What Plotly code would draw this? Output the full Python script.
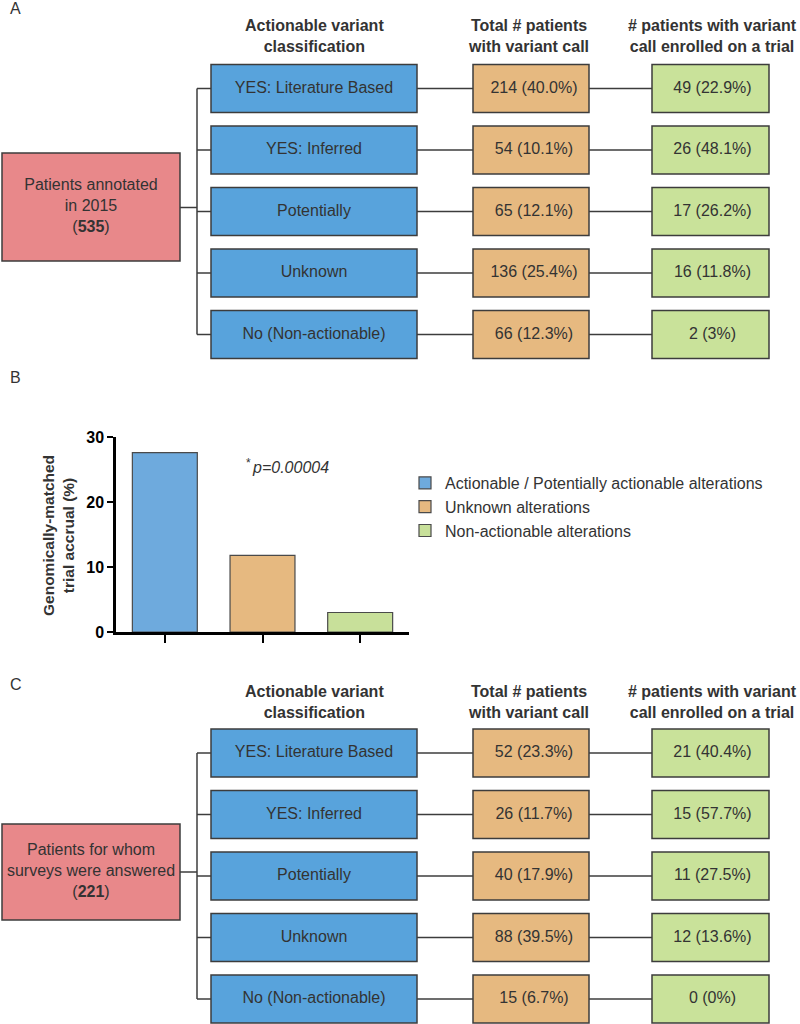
import plotly.graph_objects as go

# ---------------- data ----------------
classes = ["YES: Literature Based", "YES: Inferred", "Potentially", "Unknown", "No (Non-actionable)"]
headers = ["Actionable variant<br>classification",
           "Total # patients<br>with variant call",
           "# patients with variant<br>call enrolled on a trial"]

a_root_label = "Patients annotated<br>in 2015"
a_root_n = 535
a_total = [214, 54, 65, 136, 66]
a_total_pct = ["40.0", "10.1", "12.1", "25.4", "12.3"]
a_enrolled = [49, 26, 17, 16, 2]
a_enrolled_pct = ["22.9", "48.1", "26.2", "11.8", "3"]

c_root_label = "Patients for whom<br>surveys were answered"
c_root_n = 221
c_total = [52, 26, 40, 88, 15]
c_total_pct = ["23.3", "11.7", "17.9", "39.5", "6.7"]
c_enrolled = [21, 15, 11, 12, 0]
c_enrolled_pct = ["40.4", "57.7", "27.5", "13.6", "0"]

bar_groups = ["Actionable / Potentially actionable alterations", "Unknown alterations", "Non-actionable alterations"]
bar_values = [27.6, 11.8, 3.0]
y_ticks = [0, 10, 20, 30]
p_label = "p=0.00004"

# ---------------- style ----------------
FONT = "Liberation Sans, Arial, sans-serif"
TXT = "#333333"
EDGE = "#3c3c3c"
C_ROOT = "#e8888a"
C_CLASS = "#58a3dc"
C_TOTAL = "#e6b980"
C_ENR = "#c9e29a"
BAR_COLORS = ["#6eaadd", "#e6b980", "#c8e09a"]

W, H = 800, 1024
# column x extents (pixel-like diagram axis)
ROOT_X = (2, 180)
TRUNK_X = 197
CLASS_X = (211, 417)
TOTAL_X = (473, 589)
ENR_X = (652, 769)
BOX_H = 48
ROW_STEP = 61.5

fig = go.Figure()
shapes = []
annotations = []


def box(x0, x1, y0, y1, color):
    shapes.append(dict(type="rect", xref="x", yref="y", x0=x0, x1=x1, y0=y0, y1=y1,
                       fillcolor=color, line=dict(color=EDGE, width=1.5), layer="below"))


def line(x0, y0, x1, y1):
    shapes.append(dict(type="line", xref="x", yref="y", x0=x0, x1=x1, y0=y0, y1=y1,
                       line=dict(color=EDGE, width=1.5), layer="below"))


def panel(first_row, root_box, root_label, root_n, total, total_pct, enrolled, enrolled_pct, header_y):
    rows = [first_row + i * ROW_STEP for i in range(len(classes))]
    mid = rows[len(rows) // 2] - 4
    # root
    box(ROOT_X[0], ROOT_X[1], root_box[0], root_box[1], C_ROOT)
    line(ROOT_X[1], mid, TRUNK_X, mid)
    line(TRUNK_X, rows[0], TRUNK_X, rows[-1])
    xs, ys, ts = [], [], []
    for i, y in enumerate(rows):
        line(TRUNK_X, y, CLASS_X[0], y)
        box(CLASS_X[0], CLASS_X[1], y - BOX_H / 2, y + BOX_H / 2, C_CLASS)
        line(CLASS_X[1], y, TOTAL_X[0], y)
        box(TOTAL_X[0], TOTAL_X[1], y - BOX_H / 2, y + BOX_H / 2, C_TOTAL)
        line(TOTAL_X[1], y, ENR_X[0], y)
        box(ENR_X[0], ENR_X[1], y - BOX_H / 2, y + BOX_H / 2, C_ENR)
        xs += [sum(CLASS_X) / 2, sum(TOTAL_X) / 2 + 3, sum(ENR_X) / 2 + 2]
        ys += [y, y, y]
        ts += [classes[i], f"{total[i]} ({total_pct[i]}%)", f"{enrolled[i]} ({enrolled_pct[i]}%)"]
    xs.append(sum(ROOT_X) / 2)
    ys.append(sum(root_box) / 2)
    ts.append(f"{root_label}<br>(<b>{root_n}</b>)")
    fig.add_trace(go.Scatter(x=xs, y=ys, text=ts, mode="text", xaxis="x", yaxis="y",
                             textfont=dict(family=FONT, size=16, color=TXT),
                             textposition="middle center", showlegend=False, hoverinfo="skip"))
    for hx, h in zip([sum(CLASS_X) / 2, sum(TOTAL_X) / 2 - 3, sum(ENR_X) / 2 + 2], headers):
        annotations.append(dict(xref="x", yref="y", x=hx, y=header_y, text=f"<b>{h}</b>",
                                showarrow=False, font=dict(family=FONT, size=16, color=TXT),
                                xanchor="center", yanchor="middle"))


panel(88.5, (153, 261), a_root_label, a_root_n, a_total, a_total_pct, a_enrolled, a_enrolled_pct, 36)
panel(753, (824, 920), c_root_label, c_root_n, c_total, c_total_pct, c_enrolled, c_enrolled_pct, 701.5)

# ---------------- panel B bar chart ----------------
for g, v, col in zip(bar_groups, bar_values, BAR_COLORS):
    fig.add_trace(go.Bar(x=[g], y=[v], name=g, legendgroup=g,
                         marker=dict(color=col, line=dict(color="#4a4a4a", width=1.2)),
                         xaxis="x2", yaxis="y2", width=0.665, hoverinfo="skip"))

# panel letters
for letter, py in [("A", 8), ("B", 377), ("C", 684)]:
    annotations.append(dict(xref="paper", yref="paper", x=8 / W, y=1 - py / H, text=letter,
                            showarrow=False, xanchor="left", yanchor="middle",
                            font=dict(family=FONT, size=16, color=TXT)))

# y-axis title of bar chart
annotations.append(dict(xref="paper", yref="paper", x=58 / W, y=1 - 535 / H,
                        text="<b>Genomically-matched<br>trial accrual (%)</b>", textangle=-90,
                        showarrow=False, xanchor="center", yanchor="middle",
                        font=dict(family=FONT, size=15.5, color=TXT)))
# p-value
annotations.append(dict(xref="paper", yref="paper", x=244 / W, y=1 - 463 / H,
                        text="*", showarrow=False, xanchor="left", yanchor="middle",
                        font=dict(family=FONT, size=12, color=TXT)))
annotations.append(dict(xref="paper", yref="paper", x=250 / W, y=1 - 467 / H,
                        text=f"<i>{p_label}</i>", showarrow=False,
                        xanchor="left", yanchor="middle",
                        font=dict(family=FONT, size=16, color=TXT)))

fig.update_layout(
    width=W, height=H, margin=dict(l=0, r=0, t=0, b=0, autoexpand=False),
    paper_bgcolor="white", plot_bgcolor="rgba(0,0,0,0)",
    font=dict(family=FONT, color=TXT),
    shapes=shapes, annotations=annotations,
    barmode="overlay",
    xaxis=dict(domain=[0, 1], range=[0, W], visible=False, fixedrange=True),
    yaxis=dict(domain=[0, 1], range=[H, 0], visible=False, fixedrange=True),
    xaxis2=dict(domain=[116 / W, 409 / W], anchor="y2", range=[-0.5, 2.5],
                showticklabels=False, ticks="outside", ticklen=8, tickwidth=2, tickcolor="black",
                showline=True, linecolor="black", linewidth=2.5, showgrid=False, zeroline=False),
    yaxis2=dict(domain=[1 - 632 / H, 1 - 437 / H], anchor="x2", range=[0, 30],
                tickvals=y_ticks, ticks="outside", ticklen=6, tickwidth=2, tickcolor="black",
                tickfont=dict(family=FONT, size=16, color="black", weight="bold"),
                showline=True, linecolor="black", linewidth=2.5, showgrid=False, zeroline=False),
    legend=dict(x=405 / W, y=1 - 466 / H, xanchor="left", yanchor="top",
                font=dict(family=FONT, size=16, color=TXT), bgcolor="rgba(0,0,0,0)",
                tracegroupgap=0),
)

fig.write_html("out.html", config={"displayModeBar": False},
               post_script="document.body.style.margin='0';document.body.style.padding='0';"
                           "document.documentElement.style.overflow='hidden';")
